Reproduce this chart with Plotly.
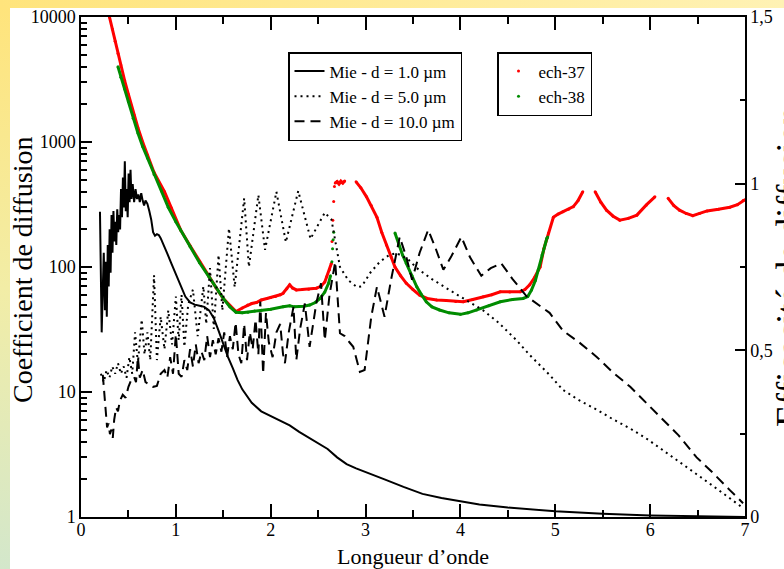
import base64
import plotly.graph_objects as go

# ---------------- data ----------------
mie1_x = [0.200,0.210,0.218,0.228,0.240,0.252,0.262,0.272,0.282,0.292,0.302,0.312,0.322,0.332,0.342,0.352,
          0.362,0.372,0.382,0.392,0.402,0.412,0.422,0.432,0.442,0.452,0.462,0.472,0.482,0.492,0.502,0.512,
          0.522,0.532,0.545,0.560,0.575,0.590,0.605,0.620,0.635,0.650,0.665,0.680,0.700,0.720,0.740,0.760,
          0.780,0.800,0.820,0.840,0.860,0.880,0.910,0.950,1.000,1.050,1.100,1.150,1.200,1.250,1.300,1.350,
          1.400,1.450,1.500,1.550,1.600,1.650,1.700,1.750,1.800,1.900,2.000,2.100,2.200,2.300,2.400,2.500,
          2.600,2.700,2.800,2.900,3.000,3.200,3.400,3.600,3.800,4.000,4.200,4.500,4.800,5.000,5.500,6.000,
          6.500,7.000]
mie1_y = [277,90,30,60,130,45,110,40,150,70,200,90,260,130,280,160,
          230,150,290,190,260,200,420,250,520,300,700,280,420,250,560,330,
          600,350,460,330,420,350,380,330,390,340,310,340,320,280,240,190,
          178,183,180,170,158,145,128,108,88,70,58,52,50,49,48,45,
          39,31,24,19,15.5,12.5,10.5,9.2,8.2,7.0,6.4,5.9,5.4,4.8,4.3,3.9,
          3.5,3.0,2.65,2.45,2.3,2.0,1.74,1.53,1.42,1.33,1.26,1.19,1.14,1.11,1.06,1.03,
          1.015,1.0]

mie5_x = [0.21,0.24,0.27,0.30,0.33,0.36,0.39,0.42,0.45,0.48,0.51,0.54,0.57,0.60,0.64,0.67,0.70,0.73,
          0.77,0.80,0.84,0.88,0.92,0.96,1.00,1.03,1.06,1.09,1.13,1.18,1.23,1.29,1.32,1.36,1.40,1.45,
          1.49,1.56,1.62,1.72,1.77,1.87,1.94,2.06,2.16,2.29,2.42,2.57,2.64,2.73,2.82,2.91,2.96,3.05,
          3.15,3.25,3.33,3.45,3.54,3.70,3.89,4.05,4.24,4.40,4.59,4.73,4.94,5.08,5.25,5.44,5.60,5.79,
          5.95,6.14,6.30,6.49,6.65,6.84,6.98]
mie5_y = [14,12,15,13,16,14,17,14,16,13,19,14,30,17,38,20,30,18,
          86,18,40,22,45,24,58,26,60,23,50,66,28,70,35,98,32,125,
          45,204,69,354,100,377,137,400,158,406,168,272,240,100,78,69,70,90,
          110,125,129,115,98,80,65,55,45,36,26,19.8,13.7,10.4,8.6,7.2,6.1,5.1,
          4.3,3.4,2.8,2.2,1.8,1.41,1.18]

mie10_x = [0.23,0.245,0.26,0.275,0.29,0.305,0.32,0.335,0.35,0.37,0.39,0.41,0.44,0.47,0.50,0.53,0.56,0.58,
           0.60,0.62,0.65,0.68,0.72,0.76,0.80,0.84,0.88,0.91,0.94,0.97,1.00,1.03,1.06,1.09,1.12,1.15,
           1.18,1.21,1.24,1.27,1.30,1.33,1.36,1.39,1.42,1.45,1.48,1.51,1.54,1.57,1.60,1.63,1.66,1.69,
           1.72,1.75,1.78,1.81,1.84,1.87,1.89,1.92,1.95,1.98,2.02,2.06,2.10,2.13,2.15,2.19,2.24,2.27,
           2.31,2.36,2.41,2.45,2.48,2.53,2.57,2.62,2.68,2.73,2.78,2.83,2.87,2.94,2.99,3.06,3.12,3.20,
           3.27,3.36,3.43,3.49,3.57,3.66,3.74,3.82,3.90,4.01,4.10,4.22,4.32,4.43,4.55,4.70,4.85,4.94,
           5.08,5.25,5.44,5.60,5.79,5.95,6.14,6.30,6.49,6.65,6.84,6.98]
mie10_y = [13.7,10,7,5.2,5.6,4.6,5.0,4.3,6.0,7.5,7.0,8.5,9.5,9.0,11,12.5,13.2,12,
           19,13,15,12,11.5,11.0,11.2,14,15,13,19,14,29,14,13.2,18,15,22,
           16,24,17,21,18,28,19,26,20,27,21,30,19,28,22,36,20,17,
           35,18,30,22,38,20,53,14,43,25,19,30,35,20,17,30,48,18,
           32,51,23,35,51,74,26,60,110,29.5,28,25,23,14.5,15,40,69.5,40,
           80,174,120,79,130,198,140,95,120,174,120,85,98,107,80,58,48,43,
           31,25,19,14.5,11,8.3,6,4.5,3.0,2.3,1.64,1.29]

ech37_x = [0.30,0.33,0.36,0.39,0.42,0.46,0.50,0.56,0.60,0.65,0.70,0.77,0.88,0.95,1.05,1.15,1.25,1.35,
           1.42,1.50,1.57,1.634,1.70,1.757,1.80,1.85,1.90,1.96,2.00,2.05,2.10,2.13,2.17,2.20,2.23,2.27,
           2.33,2.40,2.48,2.53,2.57,2.59,2.62,2.64,None,2.646,None,2.655,None,2.664,None,2.672,None,
           2.68,2.70,2.72,2.74,2.76,2.78,None,
           2.90,2.95,3.01,3.06,3.12,3.17,3.22,3.27,3.31,3.37,3.43,3.50,3.57,3.65,3.75,3.85,3.95,4.03,
           4.13,4.24,4.33,4.42,4.52,4.63,4.68,4.73,4.78,4.84,4.88,4.93,4.98,5.03,5.08,5.14,5.19,5.24,
           5.29,None,5.42,5.48,5.54,5.61,5.68,5.77,5.86,5.96,6.05,None,6.19,6.25,6.31,6.38,6.45,6.52,
           6.60,6.72,6.84,6.92,6.98,7.00]
ech37_y = [10000,8000,6400,5100,4130,3100,2400,1644,1300,1000,787,570,400,298,198,148,111,83.5,
           69,56,49,44,47,49.6,51,52,54.5,56,57,58,60,61.6,67,72,68,65.6,
           66,66.5,67.6,70,76,83.5,95,107,None,160,None,237,None,334,None,440,None,
           470,482,462,486,470,488,None,
           480,430,364,310,250,190,150,120,100,85,74,66,59.6,56,54.5,54,53,52.7,
           55,57.7,60,63.4,63,63.4,66,72,82,100,140,187,250,265,277,290,304,340,
           400,None,400,330,285,255,237,245,260,314,364,None,354,310,285,268,257,268,
           281,290,301,315,340,345]

ech38_x = [0.39,0.42,0.46,0.50,0.55,0.60,0.65,0.70,0.77,0.85,0.92,1.00,1.05,1.15,1.25,1.35,1.45,1.50,
           1.57,1.634,1.70,1.76,1.83,1.90,2.00,2.13,2.20,2.25,2.35,2.41,2.47,2.52,2.57,2.61,2.63,None,
           2.645,None,2.652,None,2.658,None,2.664,None,
           3.31,3.35,3.39,3.43,3.49,3.54,3.59,3.64,3.70,3.78,3.88,4.00,4.08,4.17,4.30,4.42,4.55,4.66,
           4.71,4.75,4.79,4.82,4.86,4.91,4.92]
ech38_y = [4000,3300,2650,2100,1550,1180,920,745,550,405,300,230,198,145,108,83.5,64,56,
           48,43.5,43,43.5,44.5,45,46,48,49,48,48.5,49.6,52,56,63,74,85,None,
           110,None,140,None,165,None,190,None,
           187,150,125,107,85,69.5,60,52.7,48,45.3,43,41.8,43,45.3,49,52.7,55,56,
           58,65.6,78,95,125,169,174]

y_ticks = [1, 10, 100, 1000, 10000]
y_ticktext = ["1", "10", "100", "1000", "10000"]
y_minor = [m * 10 ** e for e in range(4) for m in range(2, 10)]
y2_ticks = [0, 0.5, 1, 1.5]
y2_ticktext = ["0", "0,5", "1", "1,5"]

# ---------------- figure ----------------
FONT = "Liberation Serif"
fig = go.Figure()

fig.add_trace(go.Scatter(x=ech37_x, y=ech37_y, mode="lines+markers", connectgaps=False,
                         line=dict(color="#ff0000", width=3), marker=dict(color="#ff0000", size=3),
                         showlegend=False))
fig.add_trace(go.Scatter(x=ech38_x, y=ech38_y, mode="lines+markers", connectgaps=False,
                         line=dict(color="#008c00", width=3), marker=dict(color="#008c00", size=3),
                         showlegend=False))

fig.add_trace(go.Scatter(x=mie1_x, y=mie1_y, mode="lines", name="Mie - d = 1.0 µm",
                         line=dict(color="black", width=2), legend="legend"))
fig.add_trace(go.Scatter(x=mie5_x, y=mie5_y, mode="lines", name="Mie - d = 5.0 µm",
                         line=dict(color="black", width=2, dash="2px,4px"), legend="legend"))
fig.add_trace(go.Scatter(x=mie10_x, y=mie10_y, mode="lines", name="Mie - d = 10.0 µm",
                         line=dict(color="black", width=2, dash="10px,6px"), legend="legend"))

fig.add_trace(go.Scatter(x=[None], y=[None], mode="markers", name="ech-37",
                         marker=dict(color="#ff0000", size=3), legend="legend2"))
fig.add_trace(go.Scatter(x=[None], y=[None], mode="markers", name="ech-38",
                         marker=dict(color="#008c00", size=3), legend="legend2"))
# dummy trace to activate right axis
fig.add_trace(go.Scatter(x=[None], y=[None], yaxis="y2", showlegend=False))

W, H = 784, 569
L, R, T, B = 81, 39, 17, 52
pw, ph = W - L - R, H - T - B

def px_x(p):
    return (p - L) / pw

def px_y(p):
    return (H - B - p) / ph

def grad_svg(stops, horizontal):
    x2, y2 = ("1", "0") if horizontal else ("0", "1")
    s = "".join(f"<stop offset='{o}' stop-color='{c}'/>" for o, c in stops)
    svg = (f"<svg xmlns='http://www.w3.org/2000/svg' width='100' height='100' preserveAspectRatio='none'>"
           f"<defs><linearGradient id='g' x1='0' y1='0' x2='{x2}' y2='{y2}'>{s}</linearGradient></defs>"
           f"<rect width='100' height='100' fill='url(#g)'/></svg>")
    return "data:image/svg+xml;base64," + base64.b64encode(svg.encode()).decode()

images = [
    dict(source=grad_svg([(0, "#FFE47C"), (1, "#FFF2B4")], True), xref="paper", yref="paper",
         x=px_x(0), y=px_y(0), sizex=W / pw, sizey=8 / ph, xanchor="left", yanchor="top",
         sizing="stretch", layer="below"),
    dict(source=grad_svg([(0, "#FFE47C"), (0.5, "#F2EDA6"), (1, "#D3E7CB")], False),
         xref="paper", yref="paper",
         x=px_x(0), y=px_y(8), sizex=10 / pw, sizey=(H - 8) / ph, xanchor="left", yanchor="top",
         sizing="stretch", layer="below"),
]

axis_font = dict(family=FONT, size=18, color="black")
fig.update_layout(
    width=W, height=H, autosize=False,
    margin=dict(l=L, r=R, t=T, b=B, pad=0, autoexpand=False),
    paper_bgcolor="white", plot_bgcolor="white",
    font=dict(family=FONT, color="black"),
    images=images,
    xaxis=dict(range=[0, 7], dtick=1, tick0=0, ticks="inside", ticklen=13, tickwidth=1.5,
               tickcolor="black", showline=True, linecolor="black", linewidth=1.5, mirror="ticks",
               showgrid=False, zeroline=False, tickfont=axis_font, automargin=False,
               ticklabelstandoff=-4,
               minor=dict(dtick=0.5, ticks="inside", ticklen=7, tickwidth=1.5, tickcolor="black",
                          showgrid=False)),
    yaxis=dict(type="log", range=[0, 4], tickmode="array", tickvals=y_ticks, ticktext=y_ticktext,
               ticks="inside", ticklen=11, tickwidth=1.5, tickcolor="black",
               showline=True, linecolor="black", linewidth=1.5, mirror=False,
               showgrid=False, zeroline=False, tickfont=axis_font, automargin=False,
               minor=dict(tickmode="array", tickvals=y_minor, ticks="inside", ticklen=6,
                          tickwidth=1.5, tickcolor="black", showgrid=False)),
    yaxis2=dict(overlaying="y", side="right", range=[0, 1.5], tickmode="array",
                tickvals=y2_ticks, ticktext=y2_ticktext, ticks="inside", ticklen=10,
                tickwidth=1.5, tickcolor="black", showline=True, linecolor="black",
                linewidth=1.5, showgrid=False, zeroline=False, tickfont=axis_font,
                automargin=False,
                minor=dict(dtick=0.25, tick0=0, ticks="inside", ticklen=5, tickwidth=1.5,
                           tickcolor="black", showgrid=False)),
    legend=dict(x=px_x(288), y=px_y(52), xanchor="left", yanchor="top",
                bgcolor="white", bordercolor="black", borderwidth=1.5,
                font=dict(family=FONT, size=17, color="black"), tracegroupgap=0),
    legend2=dict(x=px_x(497), y=px_y(52), xanchor="left", yanchor="top",
                 bgcolor="white", bordercolor="black", borderwidth=1.5,
                 font=dict(family=FONT, size=17, color="black"), tracegroupgap=0),
    annotations=[
        dict(text="Longueur d’onde", xref="paper", yref="paper", x=px_x(413), y=px_y(556),
             xanchor="center", yanchor="middle", showarrow=False,
             font=dict(family=FONT, size=22, color="black")),
        dict(text="Coefficient de diffusion", textangle=-90, xref="paper", yref="paper",
             x=px_x(22), y=px_y(270), xanchor="center", yanchor="middle", showarrow=False,
             font=dict(family=FONT, size=28, color="black")),
        dict(text="Efficacité de diffusion", textangle=-90, xref="paper", yref="paper",
             x=px_x(767), y=0.5, xanchor="left", yanchor="middle", showarrow=False,
             font=dict(family=FONT, size=36, color="black")),
    ],
)

fig.write_html("out.html")
